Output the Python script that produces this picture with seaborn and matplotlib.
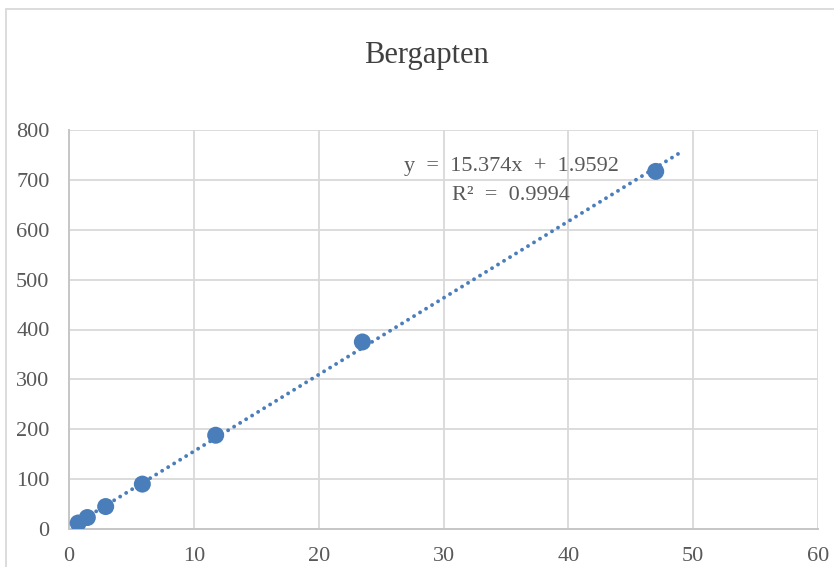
import numpy as np
import pandas as pd
import matplotlib
matplotlib.use("Agg")
import matplotlib.pyplot as plt
from matplotlib.patches import Rectangle
import seaborn as sns

# Calibration data for Bergapten
concentration = [0.734, 1.469, 2.9375, 5.875, 11.75, 23.5, 47.0]
peak_area = [12, 23, 45, 90, 188, 375, 717]

# Linear trendline as reported
slope = 15.374
intercept = 1.9592
r_squared = 0.9994
trend_end = 49.0

x_ticks = [0, 10, 20, 30, 40, 50, 60]
y_ticks = [0, 100, 200, 300, 400, 500, 600, 700, 800]

title = "Bergapten"

sns.set_theme(style="white")
plt.rcParams["font.family"] = ["Liberation Serif", "DejaVu Serif"]

W, H = 834, 567
fig = plt.figure(figsize=(W / 100, H / 100), dpi=100)
ax = fig.add_axes([69 / W, 1 - 529 / H, (818 - 69) / W, (529 - 130) / H])

blue = "#4a7ebb"
grid_c = "#d9d9d9"
text_c = "#595959"

df = pd.DataFrame({"x": concentration, "y": peak_area})
trend_x = np.array([concentration[0], trend_end])
trend = pd.DataFrame({"x": trend_x, "y": slope * trend_x + intercept})

sns.lineplot(data=trend, x="x", y="y", ax=ax, color=blue, lw=2.8,
             linestyle=(0, (0.01, 1.8)), solid_capstyle="round",
             dash_capstyle="round", zorder=3)
sns.scatterplot(data=df, x="x", y="y", ax=ax, color=blue, s=150,
                edgecolor="none", zorder=4)

ax.set_xlim(0, 60)
ax.set_ylim(0, 800)
ax.set_xticks(x_ticks)
ax.set_yticks(y_ticks)
ax.set_xlabel("")
ax.set_ylabel("")
ax.grid(True, color=grid_c, lw=1.3)
ax.set_axisbelow(True)
for side in ["top", "right"]:
    ax.spines[side].set_visible(False)
for side in ["left", "bottom"]:
    ax.spines[side].set_color("#c6c6c6")
    ax.spines[side].set_linewidth(1.4)
ax.tick_params(axis="both", length=0, labelsize=16, colors=text_c)
ax.tick_params(axis="x", pad=13)
ax.tick_params(axis="y", pad=14)

fig.text(426 / W, 1 - 55 / H, title, ha="center", va="center",
         fontsize=22, color="#404040")

# Trendline equation and fit quality
fig.text(511 / W, 1 - 166 / H, f"y  =  {slope}x  +  {intercept}",
         ha="center", va="center", fontsize=16, color=text_c)
fig.text(511 / W, 1 - 196 / H, f"R²  =  {r_squared}",
         ha="center", va="center", fontsize=16, color=text_c)

# Chart area border
fig.patches.append(Rectangle((6 / W, -0.1), 1.2, 1 - 9 / H + 0.1,
                             transform=fig.transFigure, fill=False,
                             edgecolor="#d9d9d9", lw=1.3))

fig.savefig("out.png", dpi=100)
